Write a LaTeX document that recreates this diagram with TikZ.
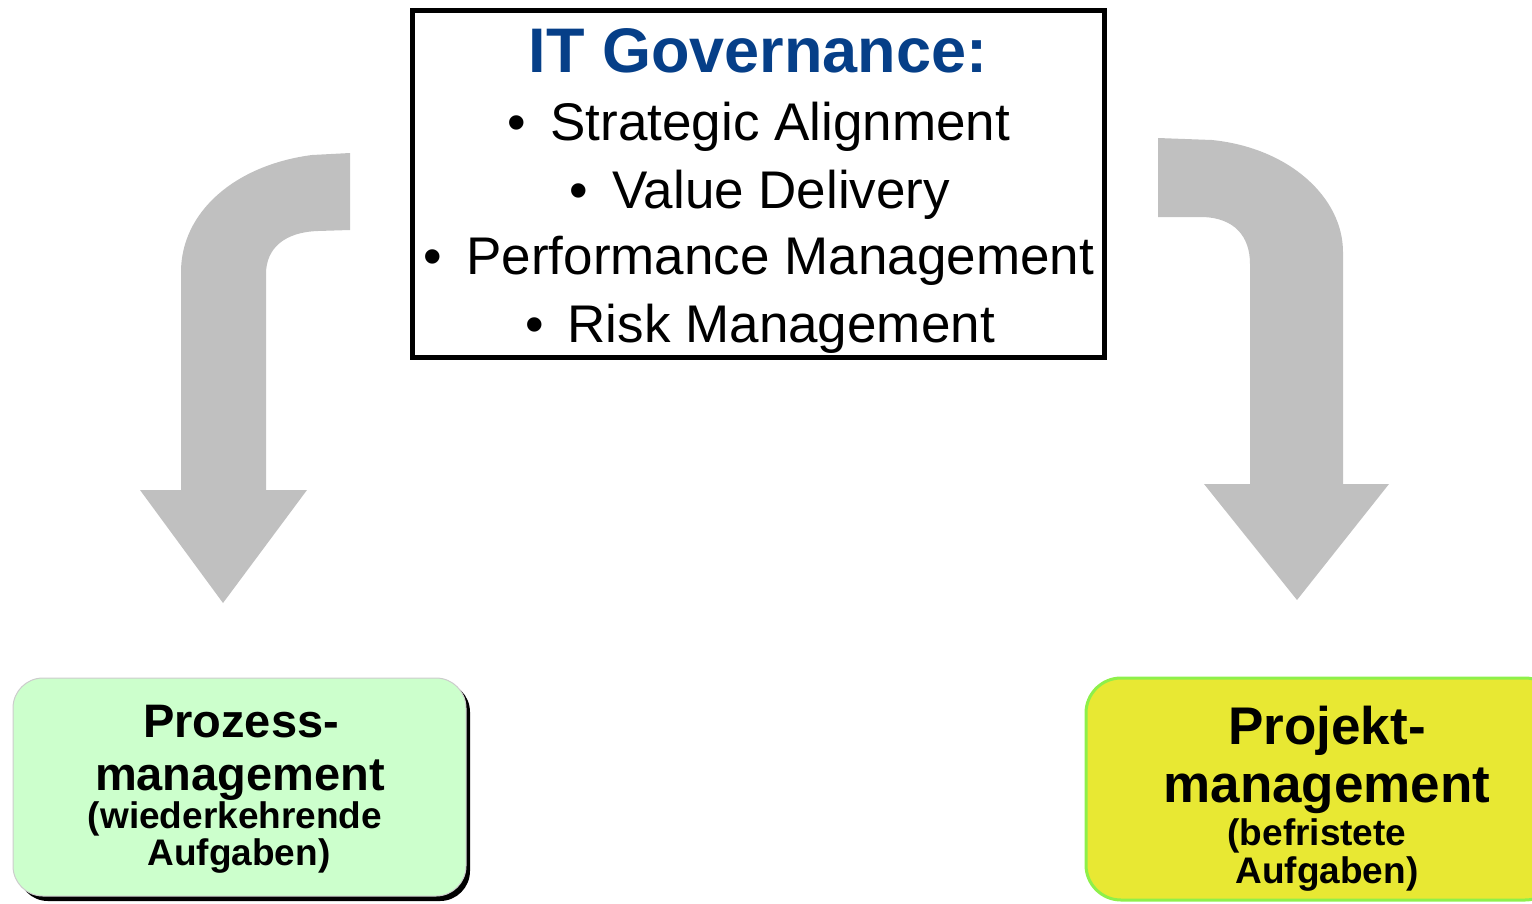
\documentclass[tikz,border=0pt]{standalone}
\usepackage{fontspec}
\setmainfont{Liberation Sans}
\definecolor{govblue}{HTML}{063F88}
\definecolor{arrowgray}{HTML}{C0C0C0}
\definecolor{procgreen}{HTML}{CCFFCC}
\definecolor{projyellow}{HTML}{E8E833}
\definecolor{projedge}{HTML}{8EF04A}
\begin{document}
\begin{tikzpicture}[x=1pt,y=-1pt,
  bigarrow/.style={fill=arrowgray,draw=none},
  bulletline/.style={anchor=base,inner sep=0pt,font=\fontsize{53}{53}\selectfont},
  boxtext/.style={anchor=base,inner sep=0pt,font=\bfseries\fontsize{#1}{#1}\selectfont},
]
\useasboundingbox (0,0) rectangle (1532,903);

% governance box
\draw[line width=5pt] (412,10) rectangle (1104,357);
\node[anchor=base,inner sep=0pt,text=govblue,font=\bfseries\fontsize{63}{63}\selectfont] (title) at (758,72) {IT Governance:};
\node[bulletline] (b1) at (759,140) {•\hspace{24pt}Strategic Alignment};
\node[bulletline] (b2) at (760,208) {•\hspace{24pt}Value Delivery};
\node[bulletline] (b3) at (759,274) {•\hspace{24pt}Performance Management};
\node[bulletline] (b4) at (760,342) {•\hspace{24pt}Risk Management};

% left bent arrow
\fill[bigarrow] (350,153) -- (312,155)
  .. controls (235,165) and (181,212) .. (181,272)
  -- (181,490) -- (140,490) -- (223,603) -- (307,490) -- (266,490)
  -- (266,274) .. controls (266,248) and (285,232) .. (318,231)
  -- (350,230) -- cycle;

% right bent arrow
\fill[bigarrow] (1158,138) -- (1212,140)
  .. controls (1290,148) and (1343,198) .. (1343,252)
  -- (1343,484) -- (1389,484) -- (1297,600) -- (1204,484) -- (1250,484)
  -- (1250,264) .. controls (1250,236) and (1234,218) .. (1203,217)
  -- (1158,217) -- cycle;

% process management box with shadow
\fill[black,rounded corners=30pt] (18,682) rectangle (470,901);
\draw[fill=procgreen,draw=gray!40,line width=1pt,rounded corners=30pt] (13,678) rectangle (466,896);
\node[boxtext=47] (p1) at (241,737) {Prozess-};
\node[boxtext=47] (p2) at (240,790) {management};
\node[boxtext=37] (p3) at (235,828) {(wiederkehrende};
\node[boxtext=37] (p4) at (239,865) {Aufgaben)};

% project management box
\draw[fill=projyellow,draw=projedge,line width=3pt,rounded corners=35pt] (1086,678) rectangle (1560,900);
\node[boxtext=53] (q1) at (1327,744) {Projekt-};
\node[boxtext=53] (q2) at (1327,802) {management};
\node[boxtext=37] (q3) at (1317,845) {(befristete};
\node[boxtext=37] (q4) at (1327,883) {Aufgaben)};
\end{tikzpicture}
\end{document}
